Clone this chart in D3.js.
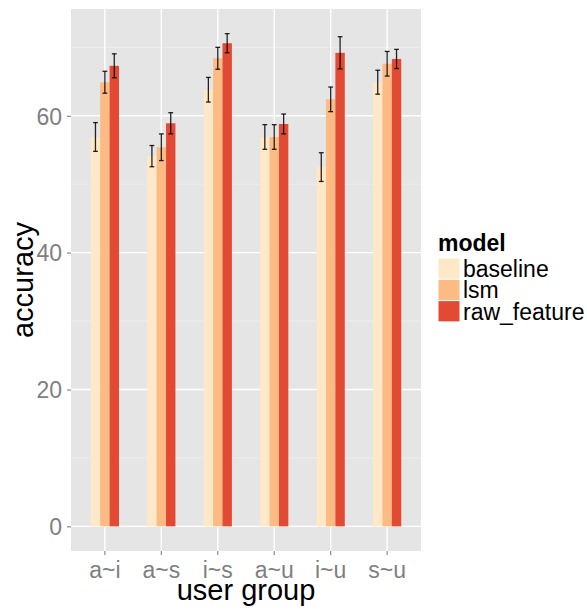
<!DOCTYPE html>
<html>
<head>
<meta charset="utf-8">
<script src="https://cdn.jsdelivr.net/npm/d3@7/dist/d3.min.js"></script>
<style>
  html, body { margin: 0; padding: 0; background: #ffffff; }
  svg { display: block; font-family: "Liberation Sans", Arial, sans-serif; }
</style>
</head>
<body>
<svg id="chart" width="587" height="610"></svg>
<script>
// Accuracy by user group for three models (mean ± error)
const groups = ["a~i", "a~s", "i~s", "a~u", "i~u", "s~u"];
const models = ["baseline", "lsm", "raw_feature"];
const baseline = [56.9, 54.1, 63.8, 56.9, 52.5, 64.9];
const lsm = [64.9, 55.4, 68.4, 56.9, 62.4, 67.6];
const rawFeature = [67.3, 58.9, 70.6, 58.8, 69.2, 68.3];
const baselineErr = [2.1, 1.55, 1.8, 1.8, 2.1, 1.75];
const lsmErr = [1.6, 1.95, 1.6, 1.8, 1.8, 1.8];
const rawFeatureErr = [1.75, 1.55, 1.4, 1.45, 2.35, 1.4];
const yTicks = [0, 20, 40, 60];
const yMinorTicks = [10, 30, 50, 70];
const colors = ["#FEE8C8", "#FDBB84", "#E34A33"];

const values = [baseline, lsm, rawFeature];
const errors = [baselineErr, lsmErr, rawFeatureErr];
const rows = [];
models.forEach((m, mi) => {
  groups.forEach((g, gi) => {
    rows.push({ group: g, model: m, value: values[mi][gi], err: errors[mi][gi] });
  });
});

const svg = d3.select("#chart");
const panel = { left: 71, right: 421, top: 9, bottom: 551 };

// Discrete x: six groups with 0.6 units of padding at each end
const x = d3.scaleBand()
  .domain(groups)
  .range([panel.left, panel.right])
  .paddingInner(0)
  .paddingOuter(0.1);

// Bars are dodged inside half of each band
const dodgeWidth = x.bandwidth() * 0.5;
const xInner = d3.scaleBand()
  .domain(models)
  .range([-dodgeWidth / 2, dodgeWidth / 2])
  .padding(0);

const y = d3.scaleLinear()
  .domain([-3.6, 75.6])
  .range([panel.bottom, panel.top]);

const color = d3.scaleOrdinal().domain(models).range(colors);

// Panel background
svg.append("rect")
  .attr("x", panel.left)
  .attr("y", panel.top)
  .attr("width", panel.right - panel.left)
  .attr("height", panel.bottom - panel.top)
  .attr("fill", "#E5E5E5");

// Minor horizontal grid
svg.append("g")
  .selectAll("line")
  .data(yMinorTicks)
  .join("line")
  .attr("x1", panel.left).attr("x2", panel.right)
  .attr("y1", d => y(d)).attr("y2", d => y(d))
  .attr("stroke", "#F2F2F2")
  .attr("stroke-width", 0.7);

// Major horizontal grid
svg.append("g")
  .selectAll("line")
  .data(yTicks)
  .join("line")
  .attr("x1", panel.left).attr("x2", panel.right)
  .attr("y1", d => y(d)).attr("y2", d => y(d))
  .attr("stroke", "#FFFFFF")
  .attr("stroke-width", 1.4);

// Major vertical grid at each group
svg.append("g")
  .selectAll("line")
  .data(groups)
  .join("line")
  .attr("x1", d => x(d) + x.bandwidth() / 2)
  .attr("x2", d => x(d) + x.bandwidth() / 2)
  .attr("y1", panel.top).attr("y2", panel.bottom)
  .attr("stroke", "#FFFFFF")
  .attr("stroke-width", 1.4);

// Bars
const barX = d => x(d.group) + x.bandwidth() / 2 + xInner(d.model);
svg.append("g")
  .selectAll("rect")
  .data(rows)
  .join("rect")
  .attr("x", barX)
  .attr("y", d => y(d.value))
  .attr("width", xInner.bandwidth())
  .attr("height", d => y(0) - y(d.value))
  .attr("fill", d => color(d.model));

// Error bars
const capHalf = 2.4;
const eb = svg.append("g")
  .attr("stroke", "#000000")
  .attr("stroke-width", 1.3)
  .attr("stroke-opacity", 0.85)
  .selectAll("g")
  .data(rows)
  .join("g")
  .attr("transform", d => `translate(${barX(d) + xInner.bandwidth() / 2},0)`);
eb.append("line")
  .attr("x1", 0).attr("x2", 0)
  .attr("y1", d => y(d.value + d.err))
  .attr("y2", d => y(d.value - d.err));
eb.append("line")
  .attr("x1", -capHalf).attr("x2", capHalf)
  .attr("y1", d => y(d.value + d.err))
  .attr("y2", d => y(d.value + d.err));
eb.append("line")
  .attr("x1", -capHalf).attr("x2", capHalf)
  .attr("y1", d => y(d.value - d.err))
  .attr("y2", d => y(d.value - d.err));

// Axes
const yAxis = svg.append("g")
  .attr("transform", `translate(${panel.left},0)`)
  .call(d3.axisLeft(y).tickValues(yTicks).tickSize(4).tickPadding(5).tickFormat(d3.format("d")));
const xAxis = svg.append("g")
  .attr("transform", `translate(0,${panel.bottom})`)
  .call(d3.axisBottom(x).tickSize(4).tickPadding(7));

[yAxis, xAxis].forEach(a => {
  a.select(".domain").remove();
  a.selectAll(".tick line").attr("stroke", "#7F7F7F").attr("stroke-width", 1.1);
  a.selectAll(".tick text")
    .attr("fill", "#7F7F7F")
    .style("font-size", "23px")
    .style("font-family", "'Liberation Sans', Arial, sans-serif");
});
yAxis.selectAll(".tick text").attr("dy", "0.36em");

// Axis titles
svg.append("text")
  .attr("x", (panel.left + panel.right) / 2)
  .attr("y", 600)
  .attr("text-anchor", "middle")
  .style("font-size", "29px")
  .attr("fill", "#000")
  .text("user group");

svg.append("text")
  .attr("transform", `translate(33,${(panel.top + panel.bottom) / 2}) rotate(-90)`)
  .attr("text-anchor", "middle")
  .style("font-size", "29px")
  .attr("fill", "#000")
  .text("accuracy");

// Legend
const legend = svg.append("g").attr("transform", "translate(438,258)");
legend.append("text")
  .attr("x", 0)
  .attr("y", -7)
  .style("font-size", "23px")
  .style("font-weight", "bold")
  .attr("fill", "#000")
  .text("model");
const keySize = 21.3;
const item = legend.selectAll("g.item")
  .data(models)
  .join("g")
  .attr("class", "item")
  .attr("transform", (d, i) => `translate(0,${i * keySize})`);
item.append("rect")
  .attr("width", 22)
  .attr("height", keySize)
  .attr("fill", d => color(d))
  .attr("stroke", "#FFFFFF")
  .attr("stroke-width", 1);
item.append("text")
  .attr("x", 25)
  .attr("y", keySize / 2)
  .attr("dy", "0.36em")
  .style("font-size", "23px")
  .attr("fill", "#000")
  .text(d => d);
</script>
</body>
</html>
